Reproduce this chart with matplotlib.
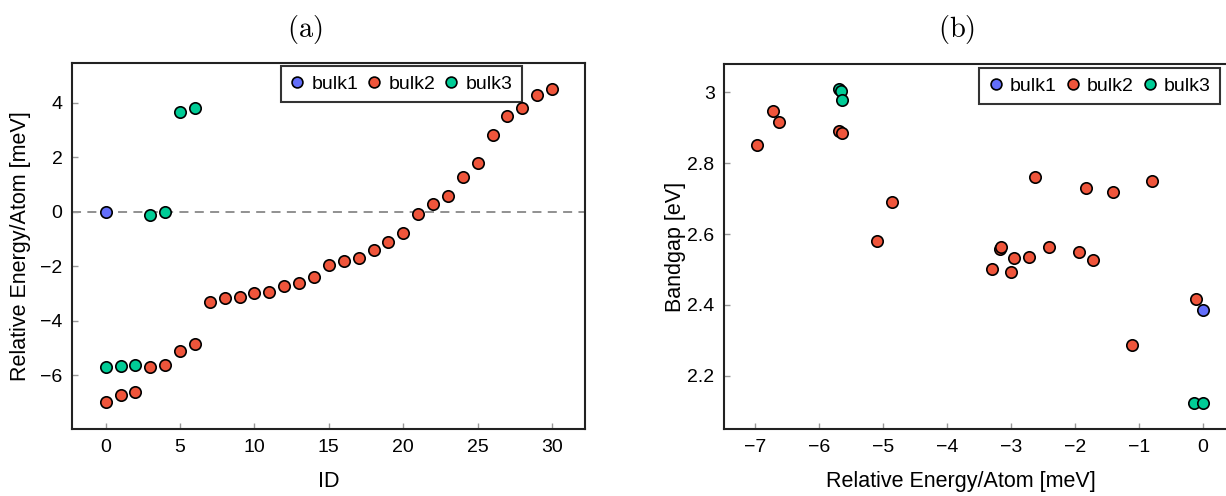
import matplotlib
matplotlib.use("Agg")
import matplotlib.pyplot as plt

# colours used for the three structure families
colors = {"bulk1": "#636efa", "bulk2": "#ef553b", "bulk3": "#00cc96"}

# relative energy per atom (meV), indexed by ID
bulk1_energy = [0.0]
bulk2_energy = [-6.97, -6.72, -6.63, -5.69, -5.64, -5.10, -4.86, -3.30, -3.17, -3.15,
                -3.00, -2.95, -2.72, -2.62, -2.41, -1.94, -1.82, -1.71, -1.41, -1.11,
                -0.80, -0.10, 0.27, 0.57, 1.26, 1.80, 2.83, 3.51, 3.82, 4.30, 4.52]
bulk3_energy = [-5.69, -5.65, -5.64, -0.13, 0.0, 3.66, 3.80]

# bandgaps (eV) for the structures with energy <= 0
bulk1_gap = [2.385]
bulk2_gap = [2.851, 2.946, 2.916, 2.890, 2.886, 2.581, 2.690, 2.501, 2.559, 2.564,
             2.493, 2.533, 2.535, 2.761, 2.564, 2.550, 2.731, 2.528, 2.720, 2.287,
             2.749, 2.416]
bulk3_gap = [3.009, 3.005, 2.978, 2.124, 2.124]

series = [("bulk1", bulk1_energy, bulk1_gap),
          ("bulk2", bulk2_energy, bulk2_gap),
          ("bulk3", bulk3_energy, bulk3_gap)]

plt.rcParams["font.family"] = ["Liberation Sans", "DejaVu Sans"]
plt.rcParams["mathtext.fontset"] = "cm"

fig = plt.figure(figsize=(12.26, 4.96), dpi=100)
ax1 = fig.add_axes([0.059, 0.135, 0.418, 0.738])
ax2 = fig.add_axes([0.5908, 0.135, 0.4137, 0.736])

marker_kw = dict(linestyle="none", marker="o", markersize=8.2,
                 markeredgecolor="black", markeredgewidth=1.2)

# (a) energy vs ID
for name, energy, gap in series:
    ax1.plot(range(len(energy)), energy, color=colors[name], label=name,
             zorder=3, **marker_kw)
ax1.axhline(0, color="#888888", linestyle=(0, (5, 3.5)), linewidth=1.3, zorder=1)
ax1.set_xlim(-2.24, 32.2)
ax1.set_ylim(-7.98, 5.46)
ax1.set_xticks([0, 5, 10, 15, 20, 25, 30])
ax1.set_yticks([-6, -4, -2, 0, 2, 4])
ax1.set_xlabel("ID", fontsize=15.5)
ax1.set_ylabel("Relative Energy/Atom [meV]", fontsize=15.5)
ax1.xaxis.set_label_coords(0.5, -0.115)
ax1.yaxis.set_label_coords(-0.08, 0.5)

# (b) bandgap vs energy
for name, energy, gap in series:
    ax2.plot(energy[:len(gap)], gap, color=colors[name], label=name,
             zorder=3, **marker_kw)
ax2.set_xlim(-7.48, 0.45)
ax2.set_ylim(2.05, 3.08)
ax2.set_xticks([-7, -6, -5, -4, -3, -2, -1, 0])
ax2.set_yticks([2.2, 2.4, 2.6, 2.8, 3.0])
ax2.set_yticklabels(["2.2", "2.4", "2.6", "2.8", "3"])
ax2.set_xlabel("Relative Energy/Atom [meV]", fontsize=15.5)
ax2.set_ylabel("Bandgap [eV]", fontsize=15.5)
ax2.xaxis.set_label_coords(0.467, -0.115)
ax2.yaxis.set_label_coords(-0.075, 0.5)

for ax, anchor in [(ax1, (0.877, 0.992)), (ax2, (0.977, 0.99))]:
    for sp in ax.spines.values():
        sp.set_linewidth(1.5)
        sp.set_color("#222222")
    ax.tick_params(direction="in", length=4, width=1, color="#999999",
                   labelsize=14, pad=7)
    leg = ax.legend(loc="upper right", bbox_to_anchor=anchor, ncol=3,
                    fontsize=14, frameon=True, fancybox=False,
                    borderaxespad=0, handletextpad=0.35, columnspacing=0.45,
                    borderpad=0.48, handlelength=0.75, markerscale=0.95)
    leg.get_frame().set_edgecolor("black")
    leg.get_frame().set_linewidth(1.5)
    leg.set_zorder(5)

fig.text(305 / 1226, 1 - 30 / 496, r"$\mathrm{(a)}$", fontsize=20.5,
         ha="center", va="center")
fig.text(957 / 1226, 1 - 30 / 496, r"$\mathrm{(b)}$", fontsize=20.5,
         ha="center", va="center")

fig.savefig("out.png", dpi=100)
